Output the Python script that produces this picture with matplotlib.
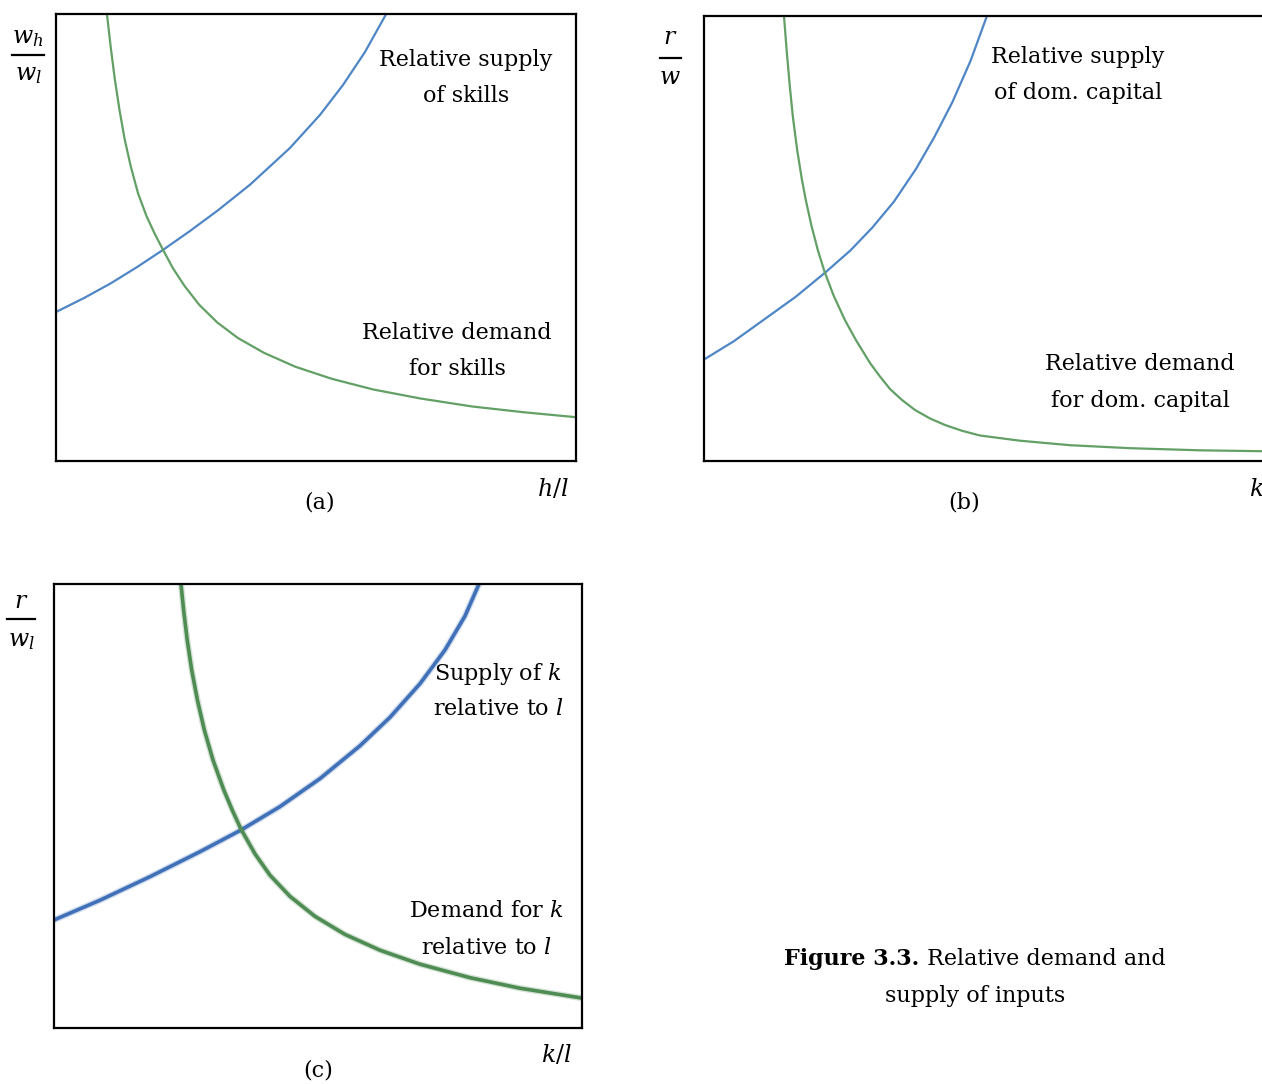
import matplotlib
matplotlib.use("Agg")
import matplotlib.pyplot as plt
from matplotlib.lines import Line2D

plt.rcParams['font.family'] = ['DejaVu Serif']
plt.rcParams['mathtext.fontset'] = 'custom'
plt.rcParams['mathtext.rm'] = 'DejaVu Serif'
plt.rcParams['mathtext.it'] = 'DejaVu Serif:italic'

# --- curve points (x 0..10 across box, y 0..10 up the box) ---
# panel (a)
supply_a_x = [0, 0.558, 1.058, 1.558, 2.058, 2.577, 3.115, 3.731, 4.500, 5.077, 5.519, 5.942, 6.35]
supply_a_y = [3.333, 3.658, 3.978, 4.338, 4.723, 5.146, 5.609, 6.181, 7.004, 7.743, 8.412, 9.150, 10.0]
demand_a_x = [0.98, 1.05, 1.13, 1.22, 1.32, 1.44, 1.58, 1.74, 1.90, 2.06, 2.25, 2.47, 2.75,
              3.10, 3.50, 4.00, 4.60, 5.30, 6.10, 7.00, 8.00, 9.00, 10.0]
demand_a_y = [10.0, 9.28, 8.55, 7.86, 7.20, 6.58, 5.98, 5.48, 5.08, 4.72, 4.31, 3.92, 3.50,
              3.10, 2.75, 2.42, 2.11, 1.84, 1.60, 1.40, 1.22, 1.09, 0.98]

# panel (b)
supply_b_x = [0, 0.507, 1.005, 1.565, 2.073, 2.497, 2.869, 3.242, 3.616, 3.927, 4.237, 4.548, 4.828]
supply_b_y = [2.28, 2.69, 3.16, 3.69, 4.24, 4.73, 5.24, 5.83, 6.56, 7.27, 8.06, 8.99, 10.0]
demand_b_x = [1.365, 1.410, 1.462, 1.517, 1.590, 1.672, 1.737, 1.831, 1.942, 2.053, 2.208, 2.404,
              2.592, 2.833, 3.003, 3.174, 3.379, 3.601, 3.857, 4.113, 4.403, 4.710, 5.392,
              6.246, 7.270, 8.464, 9.522, 10.0]
demand_b_y = [10.0, 9.236, 8.449, 7.730, 6.989, 6.315, 5.865, 5.303, 4.742, 4.270, 3.730, 3.169,
              2.719, 2.202, 1.899, 1.618, 1.371, 1.146, 0.955, 0.809, 0.679, 0.573, 0.456,
              0.355, 0.288, 0.240, 0.220, 0.213]

# panel (c)
supply_c_x = [0, 0.871, 1.818, 2.765, 3.542, 4.280, 5.038, 5.795, 6.364, 6.932, 7.405, 7.784, 8.049]
supply_c_y = [2.432, 2.878, 3.408, 3.971, 4.459, 4.986, 5.617, 6.356, 6.998, 7.755, 8.514, 9.279, 10.0]
demand_c_x = [2.405, 2.455, 2.523, 2.608, 2.716, 2.847, 3.011, 3.216, 3.375, 3.540, 3.807, 4.091,
              4.470, 4.943, 5.511, 6.174, 6.932, 7.879, 8.826, 10.0]
demand_c_y = [10.0, 9.414, 8.739, 8.063, 7.387, 6.712, 6.036, 5.360, 4.910, 4.482, 3.921, 3.441,
              2.964, 2.514, 2.108, 1.752, 1.437, 1.133, 0.896, 0.673]

W, H = 1262, 1084
BLUE = '#4f86c6'
GREEN = '#62a065'
FS = 16

fig = plt.figure(figsize=(W / 100, H / 100), dpi=100)


def px_axes(left, top, right, bottom):
    ax = fig.add_axes([left / W, 1 - bottom / H, (right - left) / W, (bottom - top) / H])
    ax.set_xlim(0, 10)
    ax.set_ylim(0, 10)
    ax.set_xticks([])
    ax.set_yticks([])
    for s in ax.spines.values():
        s.set_linewidth(1.6)
        s.set_color('black')
    return ax


def ftext(x, y, s, **kw):
    kw.setdefault('fontsize', FS)
    kw.setdefault('ha', 'center')
    kw.setdefault('va', 'center')
    return fig.text(x / W, 1 - y / H, s, **kw)


def frac_label(xc, y_num, y_bar, y_den, x0, x1, num, den):
    ftext(xc, y_num, num, fontsize=17)
    fig.add_artist(Line2D([x0 / W, x1 / W], [1 - y_bar / H, 1 - y_bar / H],
                          color='black', lw=1.6, transform=fig.transFigure))
    ftext(xc, y_den, den, fontsize=17)


# (a)
ax_a = px_axes(56, 14, 576, 461)
ax_a.plot(supply_a_x, supply_a_y, color=BLUE, lw=1.6)
ax_a.plot(demand_a_x, demand_a_y, color=GREEN, lw=1.6)
ftext(466, 60, 'Relative supply')
ftext(466, 96, 'of skills')
ftext(457, 333, 'Relative demand')
ftext(457, 369, 'for skills')
frac_label(28, 38, 55, 74, 12, 44, r'$w_h$', r'$w_l$')
ftext(553, 489, r'$h/l$', fontsize=17)
ftext(320, 502, '(a)')

# (b) -- box runs past the right edge of the page
ax_b = px_axes(704, 16, 1290, 461)
ax_b.plot(supply_b_x, supply_b_y, color=BLUE, lw=1.6)
ax_b.plot(demand_b_x, demand_b_y, color=GREEN, lw=1.6)
ftext(1078, 57, 'Relative supply')
ftext(1078, 93, 'of dom. capital')
ftext(1140, 364, 'Relative demand')
ftext(1140, 401, 'for dom. capital')
frac_label(670, 38, 58, 77, 660, 681, r'$r$', r'$w$')
ftext(1256, 489, r'$k$', fontsize=17)
ftext(964, 502, '(b)')

# (c) -- thicker, slightly soft lines
ax_c = px_axes(54, 584, 582, 1028)
for xs, ys, c in [(supply_c_x, supply_c_y, '#3f70b8'), (demand_c_x, demand_c_y, '#4f8c53')]:
    ax_c.plot(xs, ys, color=c, lw=4.5, alpha=0.25)
    ax_c.plot(xs, ys, color=c, lw=2.6)
ftext(498, 674, r'Supply of $k$')
ftext(498, 709, r'relative to $l$')
ftext(486, 911, r'Demand for $k$')
ftext(486, 948, r'relative to $l$')
frac_label(21, 601, 619, 640, 7, 35, r'$r$', r'$w_l$')
ftext(556, 1055, r'$k/l$', fontsize=17)
ftext(318, 1071, '(c)')

# caption: bold lead-in followed by regular text
fig.canvas.draw()
r = fig.canvas.get_renderer()
b = ftext(0, 959, 'Figure 3.3.', fontweight='bold', ha='left')
n = ftext(0, 959, ' Relative demand and', ha='left')
wb = b.get_window_extent(r).width
wn = n.get_window_extent(r).width
start = 975 - (wb + wn) / 2
b.set_x(start / W)
n.set_x((start + wb) / W)
ftext(975, 996, 'supply of inputs')

fig.savefig('out.png', dpi=100)
